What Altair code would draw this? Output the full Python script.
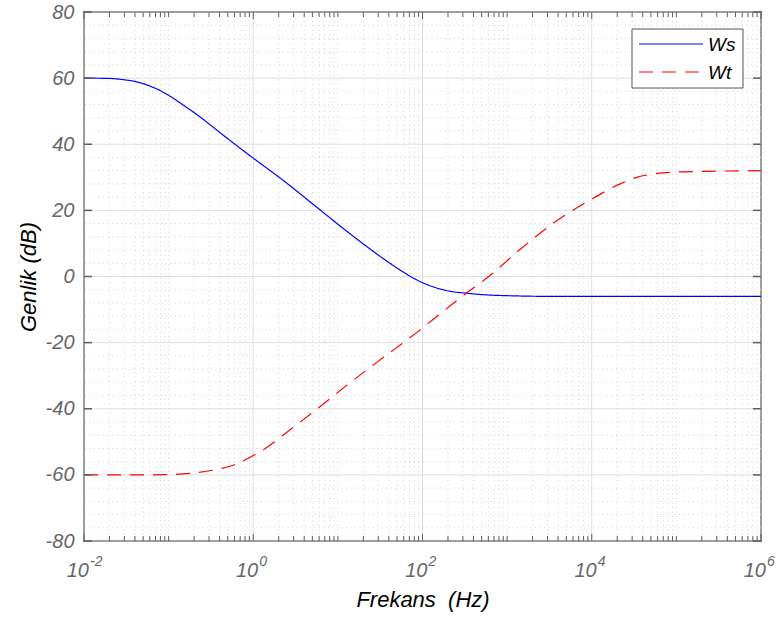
import altair as alt
import pandas as pd

# ---------------- data ----------------
ws_f = [0.01, 0.02, 0.03, 0.04, 0.06, 0.08, 0.1, 0.15, 0.24, 0.37, 0.6, 1.0, 2.2, 5.6, 13.8,
        34, 54, 95, 140, 216, 345, 600, 1000, 3000, 1e4, 1e5, 1e6]
ws_db = [60, 59.9, 59.5, 59.0, 57.6, 56.2, 54.8, 51.8, 48.1, 44.3, 40.1, 35.8, 29.3, 21.0, 13.0,
         5.5, 2.0, -1.6, -3.3, -4.5, -5.1, -5.6, -5.8, -6.0, -6.0, -6.0, -6.0]

wt_f = [0.01, 0.05, 0.1, 0.2, 0.38, 0.59, 0.93, 1.5, 2.3, 5.6, 13.8, 34, 86, 216, 317,
        580, 1440, 3600, 9400, 2.2e4, 3.4e4, 5.4e4, 8.6e4, 2.1e5, 1e6]
wt_db = [-60, -60, -59.9, -59.4, -58.3, -57.0, -54.6, -51.4, -47.8, -40.2, -32.2, -24.6,
         -16.9, -8.7, -5.4, -0.4, 8.3, 16.3, 23.0, 28.1, 30.0, 31.0, 31.5, 31.8, 32.0]

series_names = ["Ws", "Wt"]
series_colors = ["#0000ff", "#ff0000"]
series_dashes = [[1, 0], [14, 9]]

x_label_values = [1e-2, 1e0, 1e2, 1e4, 1e6]
x_label_exps = ["-2", "0", "2", "4", "6"]
x_major = [1e-2, 1e0, 1e2, 1e4, 1e6]
x_minor = [m * 10.0 ** k for k in range(-2, 6) for m in range(2, 10)] + [1e-1, 1e1, 1e3, 1e5]
y_major = list(range(-80, 81, 20))
y_minor = [v for v in range(-80, 81, 4) if v % 20 != 0]

X_TITLE = "Frekans\u00a0 (Hz)"
Y_TITLE = "Genlik (dB)"

# ---------------- layout ----------------
W, H = 677, 529
FONT = "Liberation Sans"
AX = "#5e5e5e"
LBL = "#666666"

lines_df = pd.DataFrame(
    {"f": ws_f + wt_f,
     "db": ws_db + wt_db,
     "series": ["Ws"] * len(ws_f) + ["Wt"] * len(wt_f)}
)

xscale = alt.Scale(type="log", domain=[1e-2, 1e6], nice=False)
yscale = alt.Scale(domain=[-80, 80], nice=False, zero=False)
cscale = alt.Scale(domain=series_names, range=series_colors)
dscale = alt.Scale(domain=series_names, range=series_dashes)

x_axis = alt.Axis(title=X_TITLE, labels=False, ticks=False, domain=False,
                  grid=False, titleFont=FONT, titleFontSize=22, titleFontStyle="italic",
                  titleFontWeight="normal", titleColor="#000000",
                  titleX=W / 2, titleY=58, titleBaseline="middle", titleAlign="center")
y_axis = alt.Axis(title=Y_TITLE, values=y_major, labelExpr="'' + datum.value",
                  ticks=False, domain=False, grid=False, labelPadding=10,
                  labelFont=FONT, labelFontSize=20, labelFontStyle="italic",
                  labelColor=LBL,
                  titleFont=FONT, titleFontSize=22, titleFontStyle="italic",
                  titleFontWeight="normal", titleColor="#000000",
                  titleX=-56, titleY=H / 2, titleAngle=-90,
                  titleBaseline="middle", titleAlign="center")


def X():
    return alt.X("f:Q", scale=xscale, axis=x_axis, title=X_TITLE)


def Y():
    return alt.Y("db:Q", scale=yscale, axis=y_axis, title=Y_TITLE)


xmaj_df = pd.DataFrame({"f": x_major})
xmin_df = pd.DataFrame({"f": x_minor})
ymaj_df = pd.DataFrame({"db": y_major})
ymin_df = pd.DataFrame({"db": y_minor})
xlab_df = pd.DataFrame({"f": x_label_values, "exp": x_label_exps})

# grids
MINOR = "#d3d3d3"
g_xmin = alt.Chart(xmin_df).mark_rule(color=MINOR, strokeWidth=1, strokeDash=[1, 3.5]).encode(x=X())
g_ymin = alt.Chart(ymin_df).mark_rule(color=MINOR, strokeWidth=1, strokeDash=[1, 3.5]).encode(y=Y())
g_xmaj = alt.Chart(xmaj_df).mark_rule(color="#dedede", strokeWidth=1).encode(x=X())
g_ymaj = alt.Chart(ymaj_df).mark_rule(color="#dedede", strokeWidth=1).encode(y=Y())

lines = alt.Chart(lines_df).mark_line(strokeWidth=1.2, interpolate="monotone", clip=True).encode(
    x=X(),
    y=Y(),
    color=alt.Color("series:N", scale=cscale, legend=None),
    strokeDash=alt.StrokeDash("series:N", scale=dscale, legend=None),
)

# inward ticks
t_xmaj_b = alt.Chart(xmaj_df).mark_rule(color=AX, strokeWidth=1).encode(
    x=X(), y=alt.value(H), y2=alt.value(H - 7))
t_xmaj_t = alt.Chart(xmaj_df).mark_rule(color=AX, strokeWidth=1).encode(
    x=X(), y=alt.value(0), y2=alt.value(7))
t_xmin_b = alt.Chart(xmin_df).mark_rule(color=AX, strokeWidth=1).encode(
    x=X(), y=alt.value(H), y2=alt.value(H - 5))
t_xmin_t = alt.Chart(xmin_df).mark_rule(color=AX, strokeWidth=1).encode(
    x=X(), y=alt.value(0), y2=alt.value(5))
t_y_l = alt.Chart(ymaj_df).mark_rule(color=AX, strokeWidth=1.5).encode(
    y=Y(), x=alt.value(0), x2=alt.value(8))
t_y_r = alt.Chart(ymaj_df).mark_rule(color=AX, strokeWidth=1.5).encode(
    y=Y(), x=alt.value(W), x2=alt.value(W - 8))

# x tick labels 10^k
lab_base = alt.Chart(xlab_df).transform_calculate(base="'10'").mark_text(
    font=FONT, fontSize=20, fontStyle="italic", color=LBL, align="right",
    baseline="alphabetic", dx=5).encode(
    x=X(), y=alt.value(H + 36), text="base:N")
lab_exp = alt.Chart(xlab_df).mark_text(
    font=FONT, fontSize=14, fontStyle="italic", color=LBL, align="left",
    baseline="alphabetic", dx=6).encode(
    x=X(), y=alt.value(H + 25), text="exp:N")

# legend (box, line samples, labels) drawn in the top-right corner
LX0, LX1, LY0, LY1 = 548, 659, 17, 76
leg_box = alt.Chart(pd.DataFrame({"series": ["box"]})).mark_rect(
    fill="#ffffff", stroke="#555555", strokeWidth=1).encode(
    x=alt.value(LX0), x2=alt.value(LX1), y=alt.value(LY0), y2=alt.value(LY1))
leg_items = []
for i, name in enumerate(series_names):
    ydisp = 32 + 28 * i
    d = pd.DataFrame({"series": [name]})
    leg_items.append(alt.Chart(d).mark_rule(strokeWidth=1.2).encode(
        x=alt.value(555), x2=alt.value(619), y=alt.value(ydisp),
        color=alt.Color("series:N", scale=cscale, legend=None),
        strokeDash=alt.StrokeDash("series:N", scale=dscale, legend=None)))
    leg_items.append(alt.Chart(d).mark_text(
        font=FONT, fontSize=19, fontStyle="italic", color="#000000", align="left",
        baseline="middle").encode(
        x=alt.value(624), y=alt.value(ydisp + 1), text="series:N"))

chart = alt.layer(
    g_xmin, g_ymin, g_xmaj, g_ymaj, lines,
    t_xmaj_b, t_xmaj_t, t_xmin_b, t_xmin_t, t_y_l, t_y_r,
    lab_base, lab_exp, leg_box, *leg_items
).properties(
    width=W, height=H,
    autosize=alt.AutoSizeParams(type="none"),
    padding={"left": 84, "top": 12, "right": 18, "bottom": 78},
    background="#ffffff",
).configure_view(
    stroke=AX, strokeWidth=2
)

chart.save("out.html", embed_options={"renderer": "svg", "actions": False})
